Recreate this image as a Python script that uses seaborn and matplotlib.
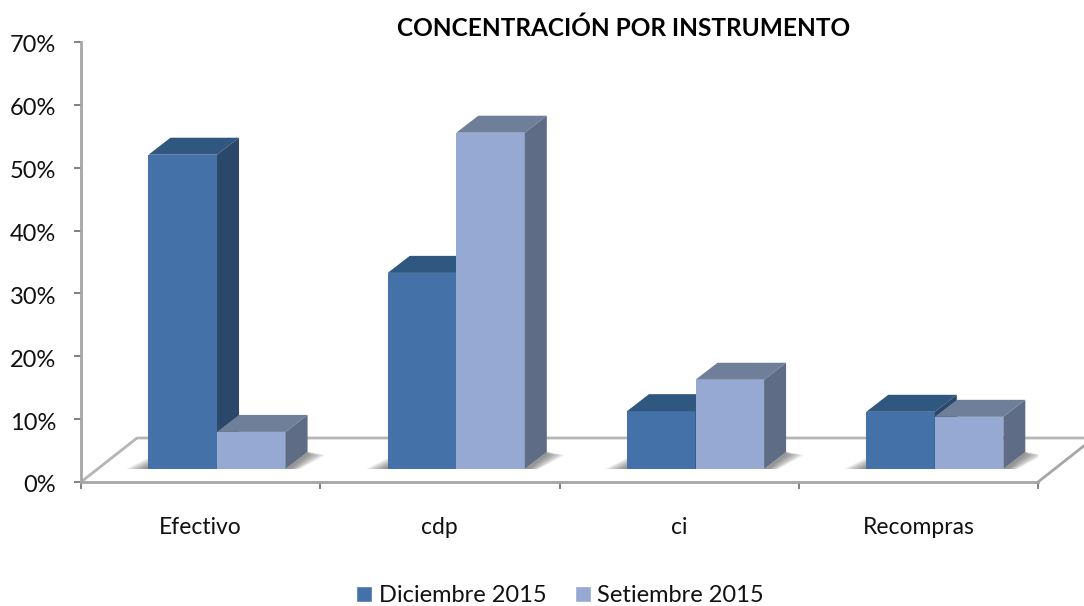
# -*- coding: utf-8 -*-
import matplotlib
matplotlib.use('Agg')
import matplotlib.pyplot as plt
from matplotlib.patches import Polygon
from matplotlib.transforms import ScaledTranslation
import pandas as pd
import seaborn as sns

categorias = ['Efectivo', 'cdp', 'ci', 'Recompras']
dic_2015 = [50.0, 31.2, 9.2, 9.1]
set_2015 = [5.9, 53.5, 14.2, 8.3]
series = ['Diciembre 2015', 'Setiembre 2015']

df = pd.DataFrame({
    'instrumento': categorias * 2,
    'valor': dic_2015 + set_2015,
    'periodo': [series[0]] * 4 + [series[1]] * 4,
})

sns.set_style('white')
plt.rcParams['font.family'] = ['Lato', 'DejaVu Sans']

frente = ['#4472A8', '#95A9D2']
techo = ['#30577F', '#6F7F99']
lado = ['#2B4769', '#5E6C86']
gris = '#A6A6A6'

W, H = 1084, 606
fig = plt.figure(figsize=(W / 100, H / 100), dpi=100)
ax = fig.add_axes([81 / W, 1 - 482 / H, 957 / W, 440 / H])

sns.barplot(data=df, x='instrumento', y='valor', hue='periodo', hue_order=series,
            palette=frente, width=0.573, saturation=1, ax=ax, zorder=3)
ax.set_xlim(-0.5, 3.5)
ax.set_ylim(0, 70)

# pixeles -> unidades de datos
px = 4 / 957
py = 70 / 440

# piso
ax.plot([-0.5, -0.5 + 56 * px, 3.5 + 47 * px], [0, 44 * py, 44 * py], color='#B5B5B5', lw=2,
        clip_on=False, zorder=1, solid_joinstyle='miter')
ax.plot([3.5, 3.5 + 47 * px], [0, 37 * py], color=gris, lw=2, clip_on=False, zorder=1)

dx, dy = 16.4 * px, 13 * py    # desplazamiento de las barras sobre el piso
fx, fy = 22 * px, 17 * py      # profundidad

for i, cont in enumerate(ax.containers):
    for bar in cont:
        x0 = bar.get_x() + dx
        x1 = x0 + bar.get_width()
        y1 = bar.get_height() + dy
        bar.set_x(x0)
        bar.set_y(dy)
        bar.set_zorder(3 + i)
        bar.set_edgecolor('none')
        bar.set_clip_on(False)
        ax.add_patch(Polygon([(x0, y1), (x1, y1), (x1 + fx, y1 + fy), (x0 + fx, y1 + fy)],
                             fc=techo[i], ec='none', clip_on=False, zorder=3 + i))
        ax.add_patch(Polygon([(x1, dy), (x1 + fx, dy + fy), (x1 + fx, y1 + fy), (x1, y1)],
                             fc=lado[i], ec='none', clip_on=False, zorder=3 + i))

# sombra suave en la base de cada grupo
for k in range(len(categorias)):
    base = k - 0.573 / 2 + dx
    fin = k + 0.573 / 2 + dx
    for s in range(10):
        ax.add_patch(Polygon([(base - (22 - 2 * s) * px, dy), (base, dy), (base, dy + (11 - s) * py)],
                             fc='#4A4A4A', alpha=0.08, ec='none', zorder=2))
        ax.add_patch(Polygon([(fin, dy), (fin + (14 - s) * px, dy), (fin + (40 - 2 * s) * px, dy + 14 * py),
                              (fin + fx, dy + fy)],
                             fc='#4A4A4A', alpha=0.08, ec='none', zorder=2))

sns.despine(ax=ax, top=True, right=True)
for lado_eje in ['left', 'bottom']:
    ax.spines[lado_eje].set_color(gris)
    ax.spines[lado_eje].set_linewidth(2)
    ax.spines[lado_eje].set_zorder(2)

ax.set_xlabel('')
ax.set_ylabel('')
ax.set_yticks(range(0, 71, 10))
ax.set_yticklabels([f'{v}%' for v in range(0, 71, 10)])
ax.tick_params(axis='y', left=True, length=5, width=1.4, color='#808080', labelsize=17,
               labelcolor='#111111', pad=13)
# etiquetas del eje y un poco mas abajo
bajar = ScaledTranslation(0, -2 / 100, fig.dpi_scale_trans)
for lab in ax.get_yticklabels():
    lab.set_transform(lab.get_transform() + bajar)
ax.set_xticks([-0.5, 0.5, 1.5, 2.5, 3.5], minor=True)
ax.tick_params(axis='x', which='minor', bottom=True, length=5, width=1.4, color='#808080')
ax.tick_params(axis='x', which='major', bottom=False, labelsize=16.5, labelcolor='#111111', pad=22)

fig.text(624 / W, 1 - 28 / H, 'CONCENTRACIÓN POR INSTRUMENTO', ha='center', va='center',
         fontsize=17.6, fontweight='bold', color='#000000')

handles, labels = ax.get_legend_handles_labels()
ax.get_legend().remove()
fig.legend(handles, labels, loc='center', bbox_to_anchor=(560 / W, 1 - 596 / H), ncol=2, frameon=False,
           fontsize=17, handlelength=0.68, handleheight=0.68, handletextpad=0.28, columnspacing=1.2,
           labelcolor='#111111')

fig.savefig('out.png', dpi=100, facecolor='white')
